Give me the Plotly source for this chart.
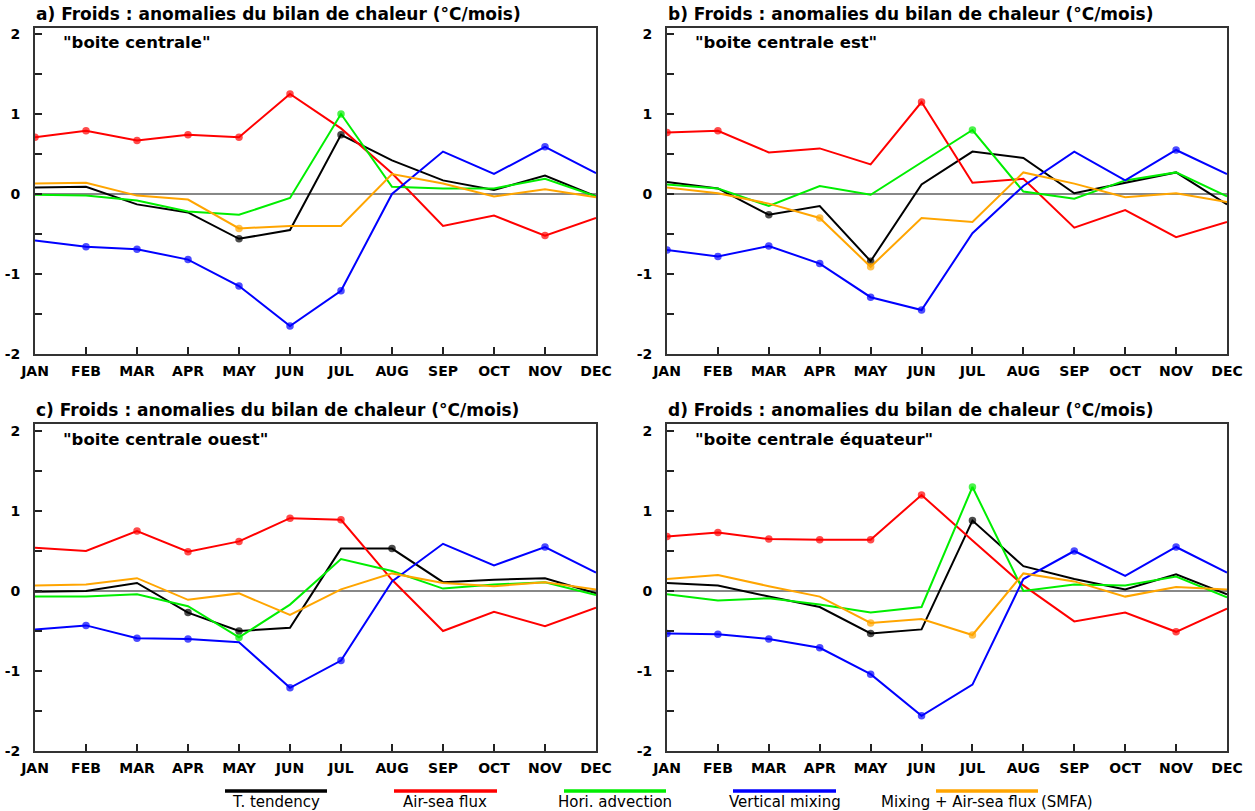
import plotly.graph_objects as go

W, H = 1255, 811

months = ["JAN", "FEB", "MAR", "APR", "MAY", "JUN",
          "JUL", "AUG", "SEP", "OCT", "NOV", "DEC"]

series_names = ["T. tendency", "Air-sea flux", "Hori. advection",
                "Vertical mixing", "Mixing + Air-sea flux (SMFA)"]
series_colors = ["#000000", "#ff0000", "#00ee00", "#0000ff", "#ffa500"]

titles = [
    "a) Froids : anomalies du bilan de chaleur (°C/mois)",
    "b) Froids : anomalies du bilan de chaleur (°C/mois)",
    "c) Froids : anomalies du bilan de chaleur (°C/mois)",
    "d) Froids : anomalies du bilan de chaleur (°C/mois)",
]
boxes = ['"boite centrale"', '"boite centrale est"',
         '"boite centrale ouest"', '"boite centrale équateur"']

# a) boite centrale
a_tend = [0.08, 0.09, -0.13, -0.23, -0.56, -0.45, 0.74, 0.42, 0.17, 0.05, 0.23, -0.03]
a_air = [0.71, 0.79, 0.67, 0.74, 0.71, 1.25, 0.82, 0.26, -0.40, -0.27, -0.52, -0.30]
a_adv = [-0.01, -0.02, -0.08, -0.22, -0.26, -0.05, 1.00, 0.09, 0.07, 0.07, 0.19, -0.03]
a_mix = [-0.58, -0.66, -0.69, -0.82, -1.15, -1.65, -1.21, 0.00, 0.53, 0.25, 0.59, 0.26]
a_smfa = [0.13, 0.14, -0.02, -0.07, -0.43, -0.40, -0.40, 0.25, 0.13, -0.03, 0.06, -0.04]

# b) boite centrale est
b_tend = [0.15, 0.07, -0.26, -0.15, -0.84, 0.12, 0.53, 0.45, 0.01, 0.14, 0.27, -0.13]
b_air = [0.77, 0.79, 0.52, 0.57, 0.37, 1.15, 0.14, 0.19, -0.42, -0.20, -0.54, -0.35]
b_adv = [0.12, 0.07, -0.15, 0.10, -0.01, 0.39, 0.80, 0.03, -0.06, 0.17, 0.27, -0.03]
b_mix = [-0.70, -0.78, -0.65, -0.87, -1.29, -1.45, -0.49, 0.10, 0.53, 0.17, 0.55, 0.25]
b_smfa = [0.08, 0.01, -0.12, -0.30, -0.91, -0.30, -0.35, 0.27, 0.13, -0.04, 0.01, -0.10]

# c) boite centrale ouest
c_tend = [-0.01, 0.00, 0.10, -0.27, -0.50, -0.46, 0.53, 0.53, 0.11, 0.14, 0.16, -0.03]
c_air = [0.54, 0.50, 0.75, 0.49, 0.62, 0.91, 0.89, 0.14, -0.50, -0.26, -0.44, -0.21]
c_adv = [-0.07, -0.07, -0.04, -0.19, -0.58, -0.17, 0.40, 0.25, 0.03, 0.08, 0.11, -0.05]
c_mix = [-0.48, -0.43, -0.59, -0.60, -0.64, -1.21, -0.87, 0.12, 0.59, 0.32, 0.55, 0.23]
c_smfa = [0.07, 0.08, 0.16, -0.11, -0.03, -0.30, 0.02, 0.22, 0.10, 0.06, 0.11, 0.02]

# d) boite centrale équateur
d_tend = [0.10, 0.07, -0.07, -0.20, -0.53, -0.48, 0.88, 0.31, 0.15, 0.02, 0.21, -0.04]
d_air = [0.68, 0.73, 0.65, 0.64, 0.64, 1.20, 0.63, 0.07, -0.38, -0.27, -0.51, -0.22]
d_adv = [-0.04, -0.12, -0.09, -0.17, -0.27, -0.20, 1.30, 0.00, 0.08, 0.07, 0.18, -0.08]
d_mix = [-0.53, -0.54, -0.60, -0.71, -1.04, -1.56, -1.17, 0.15, 0.50, 0.19, 0.55, 0.23]
d_smfa = [0.15, 0.20, 0.06, -0.07, -0.40, -0.35, -0.55, 0.22, 0.12, -0.07, 0.05, 0.02]

# months (indices) flagged with a dot on each curve
a_dots = [[4, 6], [0, 1, 2, 3, 4, 5, 10], [6], [1, 2, 3, 4, 5, 6, 10], [4]]
b_dots = [[2, 4], [0, 1, 5], [6], [0, 1, 2, 3, 4, 5, 10], [3, 4]]
c_dots = [[3, 4, 7], [2, 3, 4, 5, 6], [4], [1, 2, 3, 5, 6, 10], []]
d_dots = [[4, 6], [0, 1, 2, 3, 4, 5, 10], [6], [0, 1, 2, 3, 4, 5, 8, 10], [4, 6]]

panels = [
    ([a_tend, a_air, a_adv, a_mix, a_smfa], a_dots),
    ([b_tend, b_air, b_adv, b_mix, b_smfa], b_dots),
    ([c_tend, c_air, c_adv, c_mix, c_smfa], c_dots),
    ([d_tend, d_air, d_adv, d_mix, d_smfa], d_dots),
]

# pixel frames of the four plots: (left, right, top, bottom)
frames = [(35, 596, 28, 354), (667, 1227, 28, 354),
          (35, 596, 424, 751), (667, 1227, 424, 751)]


def px_x(p):
    return p / W


def px_y(p):
    return 1 - p / H


FONT = "DejaVu Sans"
fig = go.Figure()

ytick_vals = [-2, -1.5, -1, -0.5, 0, 0.5, 1, 1.5, 2]
ytick_text = ["-2", "", "-1", "", "0", "", "1", "", "2"]

for k, ((curves, dots), (l, r, t, b)) in enumerate(zip(panels, frames)):
    n = "" if k == 0 else str(k + 1)
    xa, ya = "x" + n, "y" + n
    for s, vals in enumerate(curves):
        sizes = [7.5 if i in dots[s] else 0 for i in range(len(months))]
        fig.add_trace(go.Scatter(
            x=list(range(len(months))), y=vals, mode="lines+markers",
            line=dict(color=series_colors[s], width=2),
            marker=dict(color=series_colors[s], size=sizes, line=dict(width=0)),
            name=series_names[s], showlegend=False, xaxis=xa, yaxis=ya,
            hoverinfo="skip"))
    # vertical scale: 80 px per unit, -2 on the bottom edge of the frame
    ymax = -2 + (b - t) / 80.0
    fig.update_layout(**{
        "xaxis" + n: dict(
            domain=[px_x(l), px_x(r)], range=[0, 11], anchor=ya,
            tickvals=list(range(12)), ticktext=months, ticks="inside",
            ticklen=7, tickwidth=1.5, tickcolor="#222", ticklabelstandoff=3,
            showline=True, linecolor="#333", linewidth=2, mirror=True,
            showgrid=False, zeroline=False, automargin=False,
            tickfont=dict(family=FONT, size=14, color="#000", weight="bold")),
        "yaxis" + n: dict(
            domain=[px_y(b), px_y(t)], range=[-2, ymax], anchor=xa,
            tickvals=ytick_vals, ticktext=ytick_text, ticks="inside",
            ticklen=7, tickwidth=1.5, tickcolor="#222", ticklabelstandoff=10,
            showline=True, linecolor="#333", linewidth=2, mirror=True,
            showgrid=False, zeroline=True, zerolinecolor="#888",
            zerolinewidth=1.5, automargin=False,
            tickfont=dict(family=FONT, size=14, color="#000", weight="bold")),
    })
    fig.add_annotation(
        x=px_x(l - 1), y=px_y(t - 14), xref="paper", yref="paper",
        text=titles[k], showarrow=False, xanchor="left", yanchor="middle",
        font=dict(family=FONT, size=17, color="#000", weight="bold"))
    fig.add_annotation(
        x=px_x(l + 26), y=px_y(t + 15), xref="paper", yref="paper",
        text=boxes[k], showarrow=False, xanchor="left", yanchor="middle",
        font=dict(family=FONT, size=16.5, color="#000", weight="bold"))

# legend row along the bottom
legend_lines = [(225, 327), (394, 497), (564, 666), (733, 836), (936, 1038)]
for s in range(5):
    x0, x1 = legend_lines[s]
    fig.add_shape(type="line", xref="paper", yref="paper",
                  x0=px_x(x0), x1=px_x(x1), y0=px_y(791), y1=px_y(791),
                  line=dict(color=series_colors[s], width=3.5))
    fig.add_annotation(
        x=px_x((x0 + x1) / 2), y=px_y(802), xref="paper", yref="paper",
        text=series_names[s], showarrow=False, xanchor="center",
        yanchor="middle", font=dict(family=FONT, size=15, color="#000"))

fig.update_layout(
    width=W, height=H,
    margin=dict(l=0, r=0, t=0, b=0, pad=0, autoexpand=False),
    paper_bgcolor="white", plot_bgcolor="white")

fig.write_html("out.html", config=dict(responsive=False))
